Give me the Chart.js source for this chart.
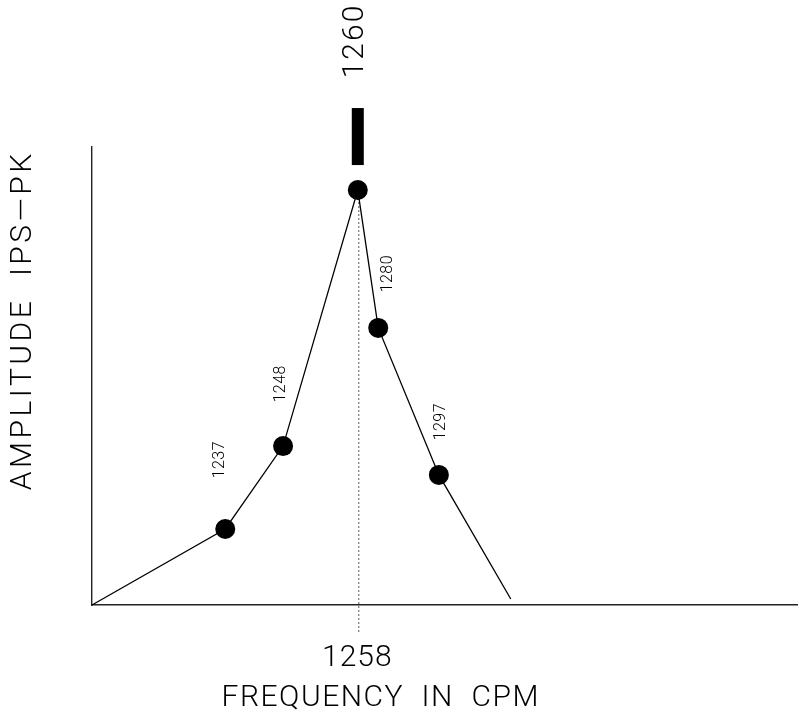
<!DOCTYPE html>
<html>
<head>
<meta charset="utf-8">
<script src="https://cdn.jsdelivr.net/npm/chart.js@4"></script>
<style>
  html, body { margin: 0; padding: 0; background: #fff; }
  canvas { display: block; }
</style>
</head>
<body>
<canvas id="spectrum" width="799" height="722"></canvas>
<script>
// values (x and y in % of axis length)
const freqLabels = ['', '1237', '1248', '1260', '1280', '1297', ''];
const xPos = [0, 18.9, 27.1, 37.7, 40.6, 49.2, 59.4];
const amplitude = [0, 16.6, 34.7, 90.6, 60.5, 28.4, 1.3];
const peakIndex = 3;
const peakTick = '1258';
const xTitle = 'FREQUENCY  IN  CPM';
const yTitle = 'AMPLITUDE  IPS\u2014PK';

const FONT = 'Roboto, "Liberation Sans", Arial, sans-serif';

// draws centred text, rotated if needed, with some letter spacing
function label(ctx, txt, x, y, rot, spacing) {
    ctx.save();
    ctx.translate(x, y);
    if (rot) ctx.rotate(rot);
    ctx.letterSpacing = (spacing || 0) + 'px';
    ctx.fillText(txt, (spacing || 0) / 2, 0);
    ctx.restore();
}

// labels, peak marker, dotted drop line and axis titles
const annotate = {
    id: 'annotate',
    beforeDatasetsDraw(chart) {
        const ctx = chart.ctx;
        const pk = chart.getDatasetMeta(0).data[peakIndex];
        ctx.save();
        ctx.strokeStyle = '#555';
        ctx.lineWidth = 1;
        ctx.setLineDash([2, 2]);
        ctx.beginPath();
        ctx.moveTo(pk.x + 1, pk.y);
        ctx.lineTo(pk.x + 1, chart.chartArea.bottom + 27);
        ctx.stroke();
        ctx.restore();
    },
    afterDatasetsDraw(chart) {
        const ctx = chart.ctx;
        const pts = chart.getDatasetMeta(0).data;
        const area = chart.chartArea;
        const up = -Math.PI / 2;
        ctx.save();
        ctx.fillStyle = '#000';
        ctx.textAlign = 'center';
        ctx.textBaseline = 'middle';

        // small rotated frequency labels next to the points
        const offs = {1: [-5, -69], 2: [-2, -62], 4: [10, -54], 5: [2, -53]};
        ctx.font = '300 16px ' + FONT;
        Object.keys(offs).forEach(i => {
            const p = pts[i];
            label(ctx, freqLabels[i], p.x + offs[i][0], p.y + offs[i][1], up, 0.5);
        });

        // peak: black bar + big label
        const pk = pts[peakIndex];
        ctx.fillRect(pk.x - 6, pk.y - 82, 12, 57);
        ctx.font = '300 30px ' + FONT;
        label(ctx, freqLabels[peakIndex], pk.x - 2, 42, up, 2);

        // tick under dotted line
        label(ctx, peakTick, pk.x - 1, area.bottom + 53, 0, 1);

        // axis titles
        label(ctx, xTitle, 380, area.bottom + 93, 0, 1.5);
        label(ctx, yTitle, 23, 322, up, 3.5);
        ctx.restore();
    }
};

new Chart(document.getElementById('spectrum'), {
    type: 'line',
    data: {
        labels: freqLabels,
        datasets: [{
            data: xPos.map((x, i) => ({x: x, y: amplitude[i]})),
            borderColor: '#000',
            borderWidth: 1.3,
            backgroundColor: '#000',
            pointBackgroundColor: '#000',
            pointBorderWidth: 0,
            pointRadius: amplitude.map((v, i) => freqLabels[i] ? 10 : 0),
            tension: 0,
            clip: false
        }]
    },
    options: {
        responsive: false,
        animation: false,
        events: [],
        layout: { padding: { top: 147, right: 2, left: 0, bottom: 0 } },
        plugins: { legend: { display: false }, tooltip: { enabled: false } },
        scales: {
            x: {
                type: 'linear',
                min: 0, max: 100,
                grid: { display: false },
                ticks: { display: false },
                border: { color: '#222', width: 1.6 },
                afterFit(s) { s.height = 117; }
            },
            y: {
                min: 0, max: 100,
                grid: { display: false },
                ticks: { display: false },
                border: { color: '#222', width: 1.4 },
                afterFit(s) { s.width = 92; }
            }
        }
    },
    plugins: [annotate]
});
</script>
</body>
</html>
